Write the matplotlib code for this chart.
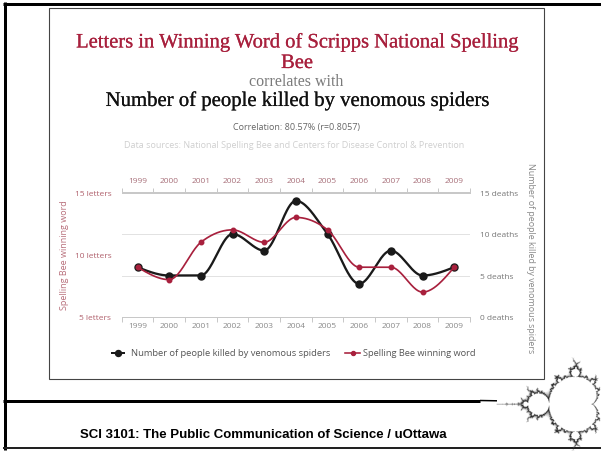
import numpy as np
import matplotlib
matplotlib.use("Agg")
import matplotlib.pyplot as plt
import matplotlib.patheffects as pe
from matplotlib.lines import Line2D
from matplotlib.patches import Rectangle

# ---------------- data ----------------
years = [1999, 2000, 2001, 2002, 2003, 2004, 2005, 2006, 2007, 2008, 2009]
spider_deaths = [6, 5, 5, 10, 8, 14, 10, 4, 8, 5, 6]
winning_word_letters = [9, 8, 11, 12, 11, 13, 12, 9, 9, 7, 9]
death_ticks = [0, 5, 10, 15]
death_labels = ["0 deaths", "5 deaths", "10 deaths", "15 deaths"]
letter_ticks = [5, 10, 15]
letter_labels = ["5 letters", "10 letters", "15 letters"]

RED = "#a8203d"
BLACK = "#1a1a1a"

W, H = 601, 452
fig = plt.figure(figsize=(W / 100, H / 100), dpi=100)
bg = fig.add_axes([0, 0, 1, 1])
bg.set_xlim(0, W)
bg.set_ylim(H, 0)
bg.axis("off")
renderer = fig.canvas.get_renderer()


def px(v):
    return v * 0.72


def fit(x, y, s, width, ha="center", rotation=0, **kw):
    t = bg.text(x, y, s, ha=ha, va="center", fontsize=10, rotation=rotation, **kw)
    bb = t.get_window_extent(renderer)
    size = bb.height if rotation else bb.width
    t.set_fontsize(10 * width / size)
    return t


# ---------------- slide frame ----------------
def hline(x0, x1, y, lw, color="black"):
    bg.add_line(Line2D([x0, x1], [y, y], color=color, lw=px(lw), solid_capstyle="butt"))


hline(3, 601, 4.5, 3)
bg.add_line(Line2D([4.5, 4.5], [3, 451], color="black", lw=px(3), solid_capstyle="butt"))
hline(3, 601, 448.5, 2, "#222222")
hline(3, 480, 401.5, 3)
bg.add_line(Line2D([480, 497], [401.5, 401.8], color="black", lw=px(1.5), solid_capstyle="butt"))

bg.add_patch(Rectangle((48.5, 8.5), 495.5, 371.5, fill=False, ec="#444444", lw=px(1.1)))

# ---------------- Mandelbrot decoration ----------------
S = 42.0
xs = np.arange(486, 601, 1 / 3)
ys = np.arange(338, 452, 1 / 3)
X, Y = np.meshgrid(xs, ys)
C = (-0.75 + (X - 549) / S) + 1j * ((405 - Y) / S)
Z = np.zeros_like(C)
maxit = 90
N = np.full(C.shape, maxit)
alive = np.ones(C.shape, bool)
for k in range(maxit):
    Z[alive] = Z[alive] ** 2 + C[alive]
    esc = alive & (np.abs(Z) > 2)
    N[esc] = k
    alive &= ~esc
img = np.ones(C.shape + (4,))
d = np.clip((N - 8) / 11.0, 0, 1) * 0.95
img[..., 0] = 0.08
img[..., 1] = 0.08
img[..., 2] = 0.08
img[..., 3] = d
inside = N == maxit
img[inside, :3] = 1.0
img[inside, 3] = 1.0
bg.imshow(img, extent=(xs[0], xs[-1], ys[-1], ys[0]), interpolation="antialiased", zorder=3)
bg.set_xlim(0, W)
bg.set_ylim(H, 0)

# ---------------- texts ----------------
t = fit(296.5, 43.5, "Letters in Winning Word of Scripps National Spelling", 443,
        family="Liberation Serif", color=RED,
        path_effects=[pe.withStroke(linewidth=0.12, foreground=RED)])
bg.text(297, 64.5, "Bee", ha="center", va="center", fontsize=t.get_fontsize(),
        family="Liberation Serif", color=RED,
        path_effects=[pe.withStroke(linewidth=0.12, foreground=RED)])
fit(296, 82, "correlates with", 95, family="Liberation Serif", color="#7a7a7a")
fit(296.5, 102, "Number of people killed by venomous spiders", 383,
    family="Liberation Serif", color="#111111",
    path_effects=[pe.withStroke(linewidth=0.12, foreground="#111111")])
fit(296.5, 127.5, "Correlation: 80.57% (r=0.8057)", 127, family="Open Sans", color="#666666")
fit(294, 146, "Data sources: National Spelling Bee and Centers for Disease Control & Prevention",
    342, family="Open Sans", color="#cfcfcf")

fit(64, 255, "Spelling Bee winning word", 110, rotation=90, family="Open Sans", color="#b86f7b")
fit(530, 258, "Number of people killed by venomous spiders", 191, rotation=-90,
    family="Open Sans", color="#888888")

# legend
bg.add_line(Line2D([112, 124], [353.5, 353.5], color=BLACK, lw=px(2)))
bg.plot([118], [353.5], "o", color=BLACK, ms=px(6))
fit(131, 353.5, "Number of people killed by venomous spiders", 201, ha="left",
    family="Open Sans", color="#555555")
bg.add_line(Line2D([345, 360], [353.5, 353.5], color=RED, lw=px(1.6)))
bg.plot([352.5], [353.5], "o", color=RED, ms=px(4))
fit(363, 353.5, "Spelling Bee winning word", 113, ha="left", family="Open Sans", color="#555555")

fit(263.5, 435.5, "SCI 3101: The Public Communication of Science / uOttawa", 367,
    family="Liberation Sans", weight="bold", color="black")

# ---------------- chart ----------------
left, right, top, bottom = 121.7, 470.0, 193.5, 318.0
ax = fig.add_axes([left / W, 1 - bottom / H, (right - left) / W, (bottom - top) / H])
ax.set_facecolor("none")
ax2 = ax.twinx()

ax.set_xlim(-0.5, len(years) - 0.5)
ax.set_ylim(0, 15)
ax2.set_ylim(5, 15)


def monotone(yv, num=40):
    yv = np.asarray(yv, float)
    n = len(yv)
    s = np.diff(yv)
    t = np.zeros(n)
    for i in range(1, n - 1):
        s0, s1 = s[i - 1], s[i]
        p = (s0 + s1) / 2
        sg = (1 if s0 >= 0 else -1) + (1 if s1 >= 0 else -1)
        t[i] = sg * min(abs(s0), abs(s1), 0.5 * abs(p))
    t[0] = (3 * s[0] - t[1]) / 2
    t[-1] = (3 * s[-1] - t[-2]) / 2
    xo, yo = [], []
    u = np.linspace(0, 1, num)
    h00 = 2 * u**3 - 3 * u**2 + 1
    h10 = u**3 - 2 * u**2 + u
    h01 = -2 * u**3 + 3 * u**2
    h11 = u**3 - u**2
    for i in range(n - 1):
        xo.append(i + u)
        yo.append(h00 * yv[i] + h10 * t[i] + h01 * yv[i + 1] + h11 * t[i + 1])
    return np.concatenate(xo), np.concatenate(yo)


xi = np.arange(len(years))
for g in (5, 10):
    ax.axhline(g, color="#e2e2e2", lw=px(1), zorder=0)

bx, by = monotone(spider_deaths)
ax.plot(bx, by, color=BLACK, lw=px(2.3), zorder=2)
ax.plot(xi, spider_deaths, "o", color=BLACK, ms=px(7), zorder=3)

rx, ry = monotone(winning_word_letters)
ax2.plot(rx, ry, color=RED, lw=px(1.7), zorder=2)
ax2.plot(xi, winning_word_letters, "o", color=RED, ms=px(4.5), zorder=3)

for a in (ax, ax2):
    for sp in ("left", "right"):
        a.spines[sp].set_visible(False)
ax2.spines["top"].set_visible(False)
ax2.spines["bottom"].set_visible(False)
for sp in ("top", "bottom"):
    ax.spines[sp].set_color("#c8c8c8")
    ax.spines[sp].set_linewidth(px(1))

ax.set_xticks(xi)
ax.set_xticklabels([str(y) for y in years])
ax.set_xticks(np.arange(-0.5, len(years), 1), minor=True)
ax.tick_params(axis="x", which="major", length=0, labelsize=6, labelcolor="#8a8a8a",
               pad=3.4, top=False, bottom=False)
ax.tick_params(axis="x", which="minor", length=3.6, width=px(1), color="#c8c8c8",
               direction="out", top=True, bottom=True)
for lab in ax.get_xticklabels():
    lab.set_family("Open Sans")

sec = ax.secondary_xaxis("top")
sec.set_xticks(xi)
sec.set_xticklabels([str(y) for y in years])
sec.tick_params(axis="x", length=0, labelsize=6, labelcolor="#a8707a", pad=6.2)
sec.spines["top"].set_color("#c8c8c8")
sec.spines["top"].set_linewidth(px(1))
for lab in sec.get_xticklabels():
    lab.set_family("Open Sans")

ax.yaxis.tick_right()
ax.set_yticks(death_ticks)
ax.set_yticklabels(death_labels)
ax.tick_params(axis="y", length=0, pad=7.5, labelsize=6, labelcolor="#777777")
ax2.yaxis.tick_left()
ax2.set_yticks(letter_ticks)
ax2.set_yticklabels(letter_labels)
ax2.tick_params(axis="y", length=0, pad=7.5, labelsize=6, labelcolor="#b0606c")
for lab in ax.get_yticklabels() + ax2.get_yticklabels():
    lab.set_family("Open Sans")

fig.savefig("out.png", dpi=100)
